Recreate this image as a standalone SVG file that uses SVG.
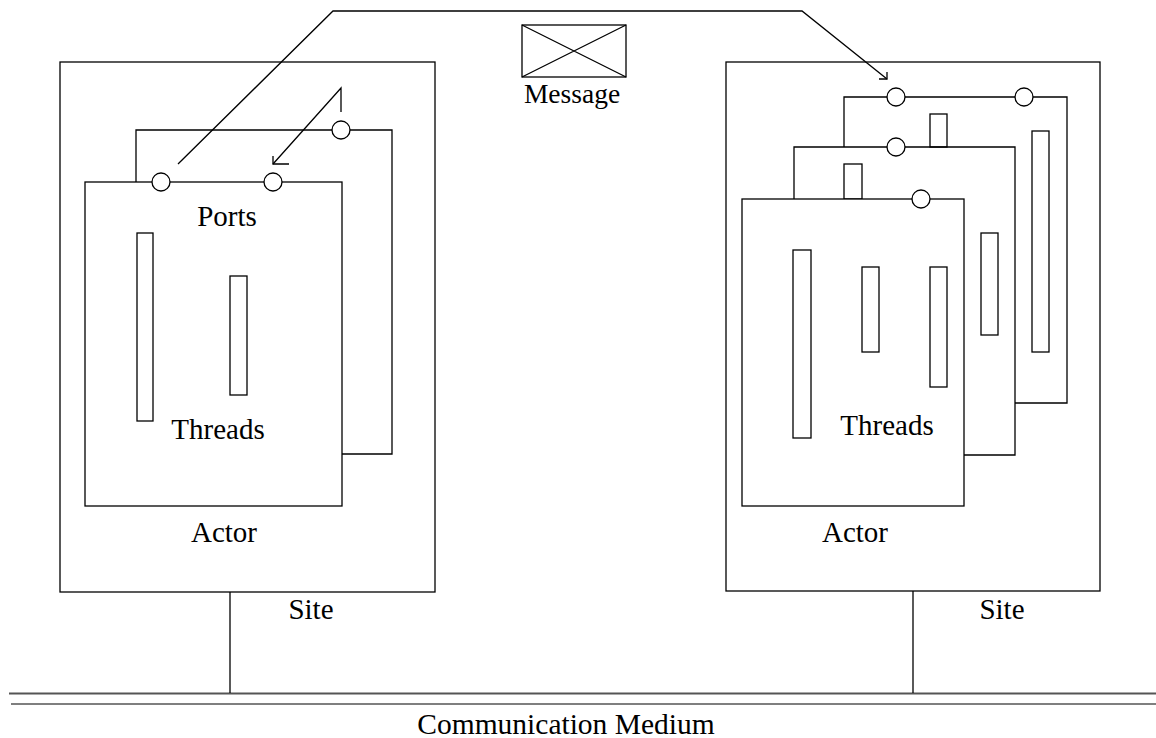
<svg xmlns="http://www.w3.org/2000/svg" width="1156" height="738" viewBox="0 0 1156 738">
  <style>
    .ln { fill: none; stroke: #000; stroke-width: 1.3; }
    .box { fill: #fff; stroke: #000; stroke-width: 1.3; }
    .port { fill: #fff; stroke: #000; stroke-width: 1.3; }
    .lbl { font-family: "Liberation Serif", "Times New Roman", serif; font-size: 29px; fill: #000; text-anchor: middle; }
  </style>
  <rect width="1156" height="738" fill="#fff"/>

  <!-- Left site -->
  <g id="site-left">
    <rect class="box" x="60" y="62" width="375" height="530"/>
    <text class="lbl" x="311" y="619">Site</text>
  </g>

  <!-- Right site -->
  <g id="site-right">
    <rect class="box" x="726" y="62" width="374" height="529"/>
    <text class="lbl" x="1002" y="619">Site</text>
  </g>

  <!-- Left actor (two stacked frames) -->
  <g id="actor-left">
    <path class="ln" d="M136,182 V130 H392 V454 H342"/>
    <circle class="port" cx="341" cy="130" r="9"/>
    <rect class="box" x="85" y="182" width="257" height="324"/>
    <circle class="port" cx="161" cy="182" r="9"/>
    <circle class="port" cx="273" cy="182" r="9"/>
    <rect class="box" x="137" y="233" width="16" height="188"/>
    <rect class="box" x="230" y="276" width="17" height="119"/>
    <text class="lbl" x="227" y="226">Ports</text>
    <text class="lbl" x="218" y="439">Threads</text>
    <text class="lbl" x="224" y="542">Actor</text>
  </g>

  <!-- Right actor (three stacked frames) -->
  <g id="actor-right">
    <path class="ln" d="M844,147 V97 H1067 V403 H1015"/>
    <rect class="box" x="1032" y="131" width="17" height="221"/>
    <circle class="port" cx="896" cy="97" r="9"/>
    <circle class="port" cx="1024" cy="97" r="9"/>
    <rect class="box" x="930" y="114" width="17" height="33"/>
    <path class="ln" d="M794,199 V147 H1015 V455 H964"/>
    <rect class="box" x="981" y="233" width="17" height="102"/>
    <circle class="port" cx="896" cy="147" r="9"/>
    <rect class="box" x="844" y="164" width="18" height="35"/>
    <rect class="box" x="742" y="199" width="222" height="307"/>
    <circle class="port" cx="921" cy="199" r="9"/>
    <rect class="box" x="793" y="250" width="18" height="188"/>
    <rect class="box" x="862" y="267" width="17" height="85"/>
    <rect class="box" x="930" y="267" width="17" height="120"/>
    <text class="lbl" x="887" y="435">Threads</text>
    <text class="lbl" x="855" y="542">Actor</text>
  </g>

  <!-- Message -->
  <g id="message">
    <rect class="box" x="522" y="25" width="104" height="52"/>
    <path class="ln" d="M522,25 L626,77 M626,25 L522,77"/>
    <text class="lbl" x="572" y="103" style="font-size:27.5px">Message</text>
  </g>

  <!-- Communication medium -->
  <g id="medium">
    <line x1="9" y1="693.5" x2="1156" y2="693.5" stroke="#555" stroke-width="1.8"/>
    <line x1="11" y1="704" x2="1156" y2="704" stroke="#000" stroke-width="1.2"/>
    <text class="lbl" x="566" y="734" style="font-size:29.5px">Communication Medium</text>
  </g>

  <!-- Connectors -->
  <g id="connectors">
    <path class="ln" d="M178,164 L333,11 H802 L887,79"/>
    <path class="ln" d="M879,79 H887 V72"/>
    <path class="ln" d="M341,112 V88 L273,164"/>
    <path class="ln" d="M273,156 V164 H289"/>
    <line class="ln" x1="230" y1="592" x2="230" y2="693"/>
    <line class="ln" x1="913" y1="591" x2="913" y2="693"/>
  </g>
</svg>
